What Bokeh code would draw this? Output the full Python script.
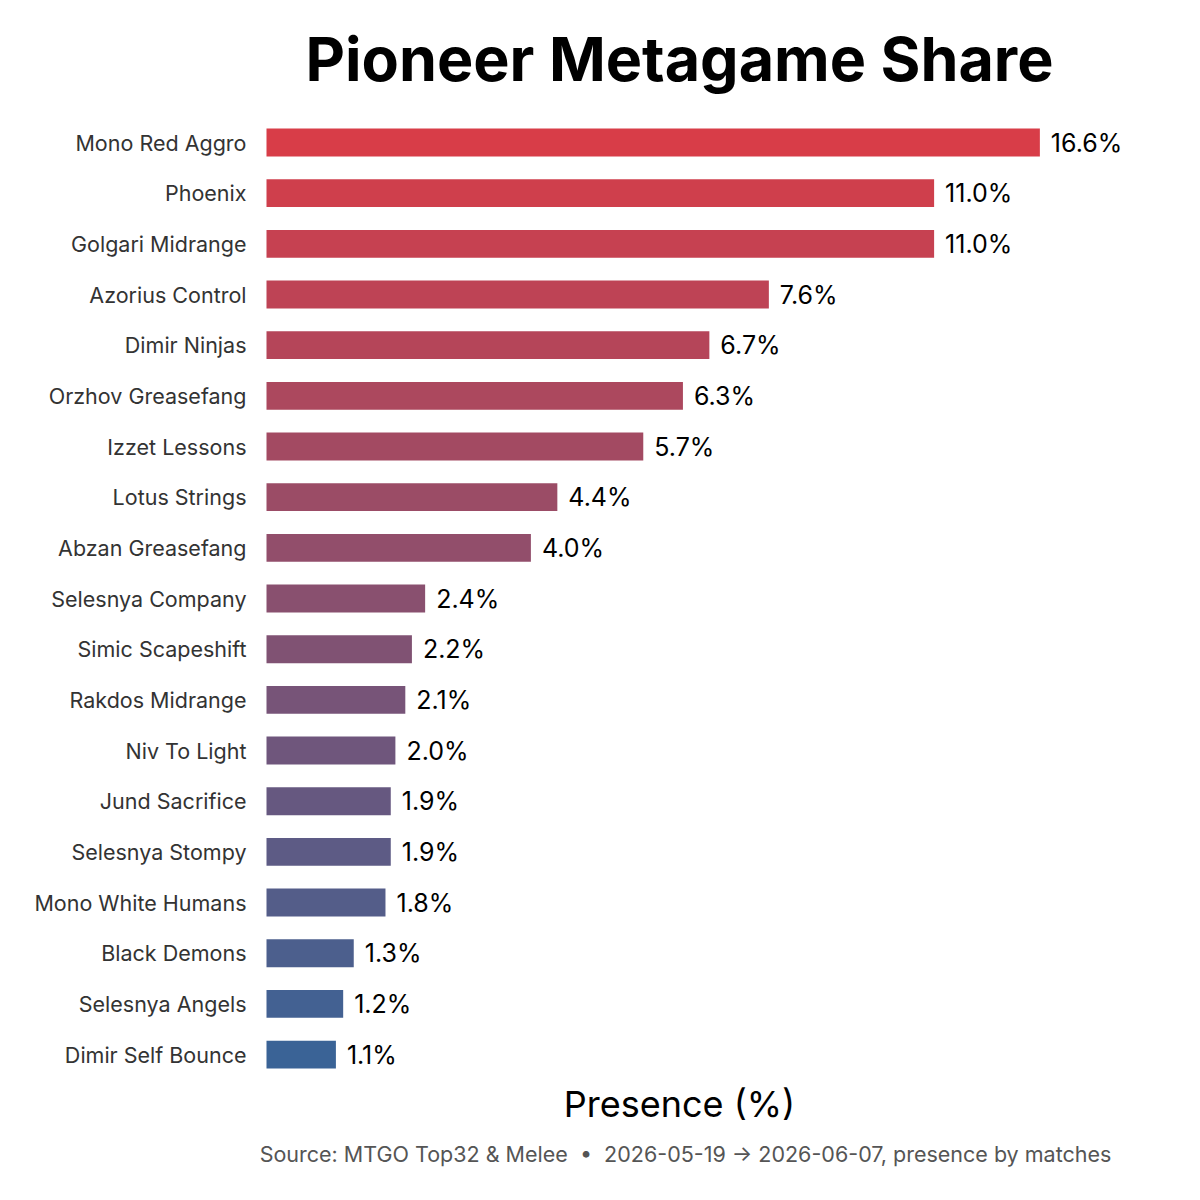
from bokeh.plotting import figure
from bokeh.models import ColumnDataSource, Range1d, FixedTicker
from bokeh.core.properties import value
from bokeh.embed import file_html
from bokeh.resources import INLINE

decks = ["Mono Red Aggro", "Phoenix", "Golgari Midrange", "Azorius Control", "Dimir Ninjas",
         "Orzhov Greasefang", "Izzet Lessons", "Lotus Strings", "Abzan Greasefang",
         "Selesnya Company", "Simic Scapeshift", "Rakdos Midrange", "Niv To Light",
         "Jund Sacrifice", "Selesnya Stompy", "Mono White Humans", "Black Demons",
         "Selesnya Angels", "Dimir Self Bounce"]
share_labels = ["16.6%", "11.0%", "11.0%", "7.6%", "6.7%", "6.3%", "5.7%", "4.4%", "4.0%",
                "2.4%", "2.2%", "2.1%", "2.0%", "1.9%", "1.9%", "1.8%", "1.3%", "1.2%", "1.1%"]
# bar lengths as drawn in the picture (percent)
bar_values = [11.7, 10.1, 10.1, 7.6, 6.7, 6.3, 5.7, 4.4, 4.0,
              2.4, 2.2, 2.1, 1.95, 1.88, 1.88, 1.8, 1.32, 1.16, 1.05]

title_text = "Pioneer Metagame Share"
xlabel_text = "Presence (%)"
source_text = "Source: MTGO Top32 & Melee \u00a0\u2022\u00a0 2026-05-19 \u2192 2026-06-07, presence by matches"

def lerp_color(c0, c1, t):
    a = [int(c0[i:i + 2], 16) for i in (1, 3, 5)]
    b = [int(c1[i:i + 2], 16) for i in (1, 3, 5)]
    return "#%02x%02x%02x" % tuple(round(a[k] + (b[k] - a[k]) * t) for k in range(3))

n = len(decks)
idx = list(range(n))
colors = [lerp_color("#d83d48", "#3a6396", i / (n - 1)) for i in idx]

# layout (canvas pixels)
W, H = 1184, 1184
FRAME_LEFT = 252
ZERO_PX = 266          # where bars start
PX_PER_UNIT = 66.1     # horizontal scale
ROW0_PX = 142          # centre of first bar
ROW_PX = 50.67         # row spacing

x0 = -(ZERO_PX - FRAME_LEFT) / PX_PER_UNIT
x1 = (W - ZERO_PX) / PX_PER_UNIT
y_top = -ROW0_PX / ROW_PX
y_bot = (H - ROW0_PX) / ROW_PX

def xd(px):
    return (px - ZERO_PX) / PX_PER_UNIT

def yd(py):
    return (py - ROW0_PX) / ROW_PX

src = ColumnDataSource(dict(y=idx, val=bar_values, lab=share_labels, color=colors))

p = figure(width=W, height=H, output_backend="svg", toolbar_location=None,
           x_range=Range1d(x0, x1), y_range=Range1d(y_bot, y_top),
           min_border_left=FRAME_LEFT, min_border_right=0, min_border_top=0, min_border_bottom=0)
p.outline_line_color = None
p.grid.grid_line_color = None
p.background_fill_color = "white"
p.border_fill_color = "white"
p.xaxis.visible = False

p.hbar(y="y", right="val", left=0, height=0.55, color="color", line_color=None, source=src)

p.text(x="val", y="y", text="lab", source=src, x_offset=11,
       text_baseline="middle", text_align="left",
       text_font=value("Inter"), text_font_size="25px", text_color="black")

p.yaxis.ticker = FixedTicker(ticks=idx)
p.yaxis.major_label_overrides = {i: d for i, d in zip(idx, decks)}
p.yaxis.axis_line_color = None
p.yaxis.major_tick_line_color = None
p.yaxis.minor_tick_line_color = None
p.yaxis.major_tick_out = 0
p.yaxis.major_tick_in = 0
p.yaxis.major_label_text_font = "Inter"
p.yaxis.major_label_text_font_size = "21.5px"
p.yaxis.major_label_text_color = "#333333"
p.yaxis.major_label_standoff = 6

p.text(x=[xd(679)], y=[yd(58)], text=[title_text], text_align="center", text_baseline="middle",
       text_font=value("Inter"), text_font_style="bold", text_font_size="61px", text_color="black")
p.text(x=[xd(679)], y=[yd(1103)], text=[xlabel_text], text_align="center", text_baseline="middle",
       text_font=value("Inter"), text_font_size="36px", text_color="black")
p.text(x=[xd(685)], y=[yd(1153)], text=[source_text], text_align="center", text_baseline="middle",
       text_font=value("Inter"), text_font_size="21.5px", text_color="#555555")

open("out.html", "w").write(file_html(p, INLINE))
